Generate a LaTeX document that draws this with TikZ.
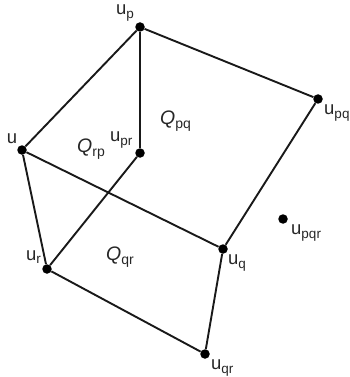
\documentclass[tikz,border=0pt]{standalone}
\usepackage{fontspec}
\setmainfont{Liberation Sans}
\tikzset{
    vertex/.style={circle, fill=black, inner sep=0pt, minimum size=9.5pt},
    edge/.style={line width=1.9pt, black!90},
    vlabel/.style={font=\fontsize{18.5}{20}\selectfont, text=black!85, inner sep=0pt},
    facelabel/.style={font=\fontsize{19.5}{21}\selectfont, text=black!85, inner sep=0pt}
}
\newcommand{\sub}[1]{\raisebox{-3.5pt}{\fontsize{13.5}{14}\selectfont #1}}
\newcommand{\facesub}[1]{\raisebox{-4pt}{\fontsize{14}{14}\selectfont #1}}
\begin{document}
\begin{tikzpicture}[x=1pt, y=-1pt]
    \useasboundingbox (0,0) rectangle (349,377);
    \node[vertex] (u) at (22,150) {};
    \node[vertex] (up) at (140,27) {};
    \node[vertex] (upr) at (140,153) {};
    \node[vertex] (upq) at (318,99) {};
    \node[vertex] (uq) at (223,249) {};
    \node[vertex] (ur) at (47,269) {};
    \node[vertex] (uqr) at (205,354) {};
    \node[vertex] (upqr) at (283,219) {};
    \draw[edge] (u) -- (up);
    \draw[edge] (up) -- (upq);
    \draw[edge] (up) -- (upr);
    \draw[edge] (upr) -- (ur);
    \draw[edge] (u) -- (ur);
    \draw[edge] (u) -- (uq);
    \draw[edge] (upq) -- (uq);
    \draw[edge] (uq) -- (uqr);
    \draw[edge] (ur) -- (uqr);
    \node[vlabel] (lu) at (12,139) {u};
    \node[vlabel, anchor=west] (lup) at (116,13) {u\sub{p}};
    \node[vlabel, anchor=west] (lupr) at (110,140) {u\sub{pr}};
    \node[vlabel, anchor=west] (lupq) at (324,113) {u\sub{pq}};
    \node[vlabel, anchor=west] (luq) at (228,263) {u\sub{q}};
    \node[vlabel, anchor=west] (lur) at (26,257) {u\sub{r}};
    \node[vlabel, anchor=west] (luqr) at (211,368) {u\sub{qr}};
    \node[vlabel, anchor=west] (lupqr) at (291,233) {u\sub{pqr}};
    \node[facelabel, anchor=west] (qrp) at (77,149) {\textit{Q}\facesub{rp}};
    \node[facelabel, anchor=west] (qpq) at (160,121) {\textit{Q}\facesub{pq}};
    \node[facelabel, anchor=west] (qqr) at (106,257) {\textit{Q}\facesub{qr}};
\end{tikzpicture}
\end{document}
